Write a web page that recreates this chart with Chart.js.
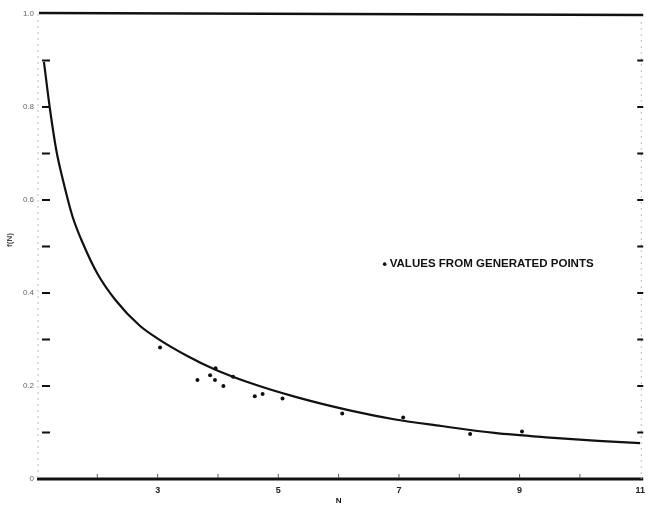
<!DOCTYPE html>
<html>
<head>
<meta charset="utf-8">
<script src="https://cdn.jsdelivr.net/npm/chart.js@4"></script>
<style>
  body { margin: 0; background: #fff; }
  canvas { display: block; }
</style>
</head>
<body>
<canvas id="chart" width="651" height="508"></canvas>
<script>
// fitted curve
var curveN = [1.115, 1.21, 1.32, 1.43, 1.59, 1.76, 2.0, 2.3, 2.7, 3.0, 3.5, 3.94, 4.5, 5.3, 6.2, 6.94, 7.7, 8.58, 9.5, 10.3, 11];
var curveVal = [0.897, 0.800, 0.707, 0.643, 0.564, 0.507, 0.442, 0.385, 0.330, 0.302, 0.264, 0.236, 0.208, 0.176, 0.147, 0.128, 0.114, 0.099, 0.089, 0.082, 0.077];

// values from generated points
var pointN = [3.04, 3.66, 3.87, 3.95, 3.96, 4.09, 4.25, 4.61, 4.74, 5.07, 6.06, 7.07, 8.18, 9.04];
var pointVal = [0.283, 0.213, 0.223, 0.213, 0.238, 0.200, 0.220, 0.178, 0.183, 0.173, 0.141, 0.132, 0.097, 0.102];

var xLabels = [3, 5, 7, 9, 11];
var yLabels = [0, 0.2, 0.4, 0.6, 0.8, 1.0];
var legendText = "VALUES FROM GENERATED POINTS";

function pairs(xs, ys) {
    return xs.map(function (x, i) { return { x: x, y: ys[i] }; });
}

var framePlugin = {
    id: "frame",
    afterDraw: function (chart) {
        var ctx = chart.ctx;
        var a = chart.chartArea;
        var xs = chart.scales.x;
        var ys = chart.scales.y;
        ctx.save();

        // top border, heavy
        ctx.strokeStyle = "#111";
        ctx.lineWidth = 2.5;
        ctx.beginPath();
        ctx.moveTo(a.left + 2, a.top - 1);
        ctx.lineTo(a.right + 3, a.top + 1);
        ctx.stroke();

        // bottom axis, heavy
        ctx.lineWidth = 3;
        ctx.beginPath();
        ctx.moveTo(a.left, a.bottom);
        ctx.lineTo(a.right + 3, a.bottom);
        ctx.stroke();

        // faint left and right edges
        ctx.strokeStyle = "#bbb";
        ctx.lineWidth = 1;
        ctx.setLineDash([2, 4]);
        ctx.beginPath();
        ctx.moveTo(a.left + 1, a.top);
        ctx.lineTo(a.left + 1, a.bottom);
        ctx.moveTo(a.right + 1, a.top + 8);
        ctx.lineTo(a.right + 1, a.bottom);
        ctx.stroke();
        ctx.setLineDash([]);

        // inner y ticks
        ctx.strokeStyle = "#111";
        ctx.lineWidth = 2;
        for (var i = 1; i <= 9; i++) {
            var py = ys.getPixelForValue(i / 10);
            ctx.beginPath();
            ctx.moveTo(a.left + 5, py);
            ctx.lineTo(a.left + 13, py);
            ctx.moveTo(a.right - 3, py);
            ctx.lineTo(a.right + 3, py);
            ctx.stroke();
        }

        // small x ticks
        ctx.lineWidth = 1;
        ctx.strokeStyle = "#555";
        for (var n = 2; n <= 10; n++) {
            var px = xs.getPixelForValue(n);
            ctx.beginPath();
            ctx.moveTo(px, a.bottom - 5);
            ctx.lineTo(px, a.bottom - 1);
            ctx.stroke();
        }

        // legend note
        var lx = xs.getPixelForValue(6.83);
        var ly = ys.getPixelForValue(0.462);
        ctx.fillStyle = "#111";
        ctx.beginPath();
        ctx.arc(lx - 4, ly, 1.8, 0, Math.PI * 2);
        ctx.fill();
        ctx.font = "bold 10px 'Liberation Sans', Arial, sans-serif";
        ctx.textBaseline = "middle";
        var w = ctx.measureText(legendText).width;
        ctx.save();
        ctx.translate(lx + 1, ly);
        ctx.scale(204 / w, 1);
        ctx.fillText(legendText, 0, 0);
        ctx.restore();

        // axis titles
        ctx.font = "bold 8px 'Liberation Sans', Arial, sans-serif";
        ctx.textAlign = "center";
        ctx.fillText("N", (a.left + a.right) / 2, 501);
        ctx.save();
        ctx.translate(10, 240);
        ctx.rotate(-Math.PI / 2);
        ctx.fillStyle = "#444";
        ctx.fillText("f(N)", 0, 0);
        ctx.restore();

        ctx.restore();
    }
};

new Chart(document.getElementById("chart").getContext("2d"), {
    type: "scatter",
    data: {
        datasets: [{
            label: "curve",
            data: pairs(curveN, curveVal),
            showLine: true,
            borderColor: "#111",
            borderWidth: 2.2,
            pointRadius: 0,
            cubicInterpolationMode: "monotone",
            fill: false
        }, {
            label: legendText,
            data: pairs(pointN, pointVal),
            backgroundColor: "#111",
            borderColor: "#111",
            pointRadius: 2,
            borderWidth: 0
        }]
    },
    options: {
        responsive: false,
        animation: false,
        layout: { padding: { top: 14, right: 3, left: 0, bottom: 0 } },
        plugins: {
            legend: { display: false },
            tooltip: { enabled: false }
        },
        scales: {
            x: {
                type: "linear",
                min: 1,
                max: 11,
                grid: { display: false, drawTicks: false },
                border: { display: false },
                ticks: {
                    stepSize: 1,
                    padding: 6,
                    color: "#222",
                    font: { size: 9, weight: "bold", family: "'Liberation Sans', Arial, sans-serif" },
                    callback: function (v) { return xLabels.indexOf(v) >= 0 ? String(v) : ""; }
                },
                afterFit: function (s) { s.height = 29; }
            },
            y: {
                min: 0,
                max: 1,
                grid: { display: false, drawTicks: false },
                border: { display: false },
                ticks: {
                    stepSize: 0.1,
                    padding: 3,
                    color: "#666",
                    font: { size: 8, family: "'Liberation Sans', Arial, sans-serif" },
                    callback: function (v) {
                        var r = Math.round(v * 10) / 10;
                        if (yLabels.indexOf(r) < 0) return "";
                        return r === 0 ? "0" : r.toFixed(1);
                    }
                },
                afterFit: function (s) { s.width = 37; }
            }
        }
    },
    plugins: [framePlugin]
});
</script>
</body>
</html>
